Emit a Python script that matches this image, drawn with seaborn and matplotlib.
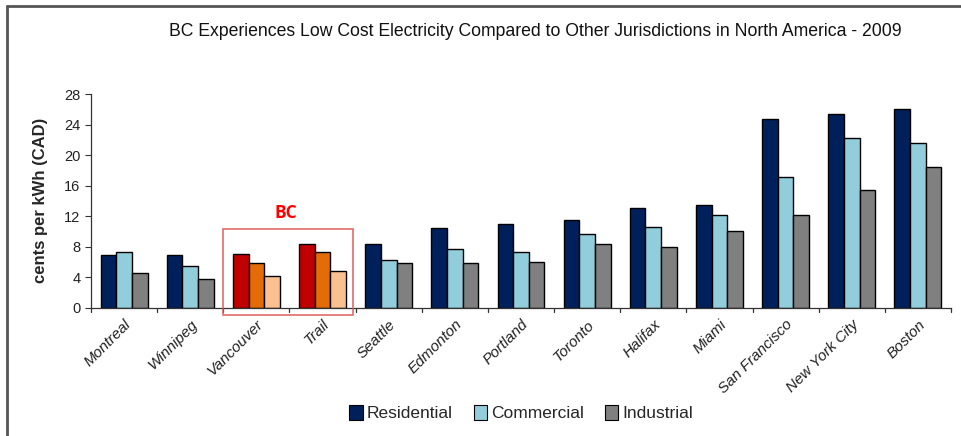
import matplotlib
matplotlib.use("Agg")
import matplotlib.pyplot as plt
from matplotlib.patches import Rectangle, Patch
from matplotlib.lines import Line2D
import seaborn as sns
import pandas as pd

cities = ["Montreal", "Winnipeg", "Vancouver", "Trail", "Seattle", "Edmonton",
          "Portland", "Toronto", "Halifax", "Miami", "San Francisco",
          "New York City", "Boston"]
residential = [6.9, 6.9, 7.1, 8.3, 8.4, 10.4, 11.0, 11.5, 13.1, 13.5, 24.7, 25.4, 26.1]
commercial = [7.3, 5.4, 5.8, 7.3, 6.3, 7.7, 7.3, 9.6, 10.6, 12.1, 17.1, 22.2, 21.6]
industrial = [4.6, 3.8, 4.1, 4.8, 5.8, 5.8, 5.95, 8.4, 7.9, 10.1, 12.1, 15.4, 18.5]
sectors = ["Residential", "Commercial", "Industrial"]
bc_cities = ["Vancouver", "Trail"]
yticks = [0, 4, 8, 12, 16, 20, 24, 28]

sector_colors = {"Residential": "#00205C", "Commercial": "#92CDDC", "Industrial": "#808080"}
bc_colors = {"Residential": "#C00000", "Commercial": "#E36C09", "Industrial": "#FAC090"}

df = pd.DataFrame({
    "city": cities * 3,
    "sector": [s for s in sectors for _ in cities],
    "value": residential + commercial + industrial,
})

sns.set_theme(style="white")
plt.rcParams["font.family"] = ["Liberation Sans", "DejaVu Sans"]

fig = plt.figure(figsize=(9.61, 4.36), dpi=100)
ax = fig.add_axes([91 / 961, 1 - 307.7 / 436, (951 - 91) / 961, (307.7 - 94) / 436])

sns.barplot(data=df, x="city", y="value", hue="sector", order=cities,
            hue_order=sectors, palette=sector_colors, width=0.71, gap=0,
            edgecolor="black", linewidth=1.0, saturation=1, ax=ax, legend=False)

# BC cities get warm colours
for container, sector in zip(ax.containers, sectors):
    for city, bar in zip(cities, container.patches):
        if city in bc_cities:
            bar.set_facecolor(bc_colors[sector])

ax.set_ylim(0, 28)
ax.set_xlim(-0.5, len(cities) - 0.5)
ax.set_yticks(yticks)
ax.set_yticklabels([str(t) for t in yticks], fontsize=10.5, color="#222222")
ax.set_xticks(range(len(cities)))
ax.set_xticklabels(cities, rotation=45, ha="right", rotation_mode="anchor",
                   fontsize=11, style="italic", color="#222222")
ax.tick_params(axis="x", length=0, pad=7)
ax.tick_params(axis="y", length=4, width=0.8, direction="out", color="#333333", left=True)

# category boundary ticks on the x axis
for b in range(len(cities) + 1):
    ax.plot([b - 0.5, b - 0.5], [0, -0.5], color="#333333", lw=0.9, clip_on=False)

for s in ["top", "right"]:
    ax.spines[s].set_visible(False)
for s in ["left", "bottom"]:
    ax.spines[s].set_color("#333333")
    ax.spines[s].set_linewidth(0.9)

ax.set_xlabel("")
ax.set_ylabel("cents per kWh (CAD)", fontsize=12, fontweight="bold", labelpad=12)

# BC highlight box
ax.add_patch(Rectangle((1.5, -0.95), 1.96, 11.25, fill=False, edgecolor="#D9534F",
                       lw=1.2, alpha=0.85, clip_on=False, zorder=5))
ax.text(2.45, 12.4, "BC", color="#FF0000", fontsize=12.5, fontweight="bold",
        ha="center", va="center", family=["Open Sans", "DejaVu Sans"])

fig.text(535 / 961, 1 - 32 / 436,
         "BC Experiences Low Cost Electricity Compared to Other Jurisdictions in North America - 2009",
         ha="center", va="center", fontsize=12.7, color="#111111")

handles = [Patch(facecolor=sector_colors[s], edgecolor="black", linewidth=0.8) for s in sectors]
fig.legend(handles, sectors, loc="center", bbox_to_anchor=(521 / 961, 1 - 413 / 436),
           ncol=3, frameon=False, fontsize=12.5, handlelength=0.8, handleheight=1.0,
           handletextpad=0.2, columnspacing=1.2)

# frame lines along the top and left of the figure
fig.add_artist(Line2D([6.5 / 961, 1], [1 - 6 / 436, 1 - 6 / 436], color="#555555", lw=2))
fig.add_artist(Line2D([6.5 / 961, 6.5 / 961], [0, 1 - 6 / 436], color="#555555", lw=2))

fig.savefig("out.png", dpi=100)
